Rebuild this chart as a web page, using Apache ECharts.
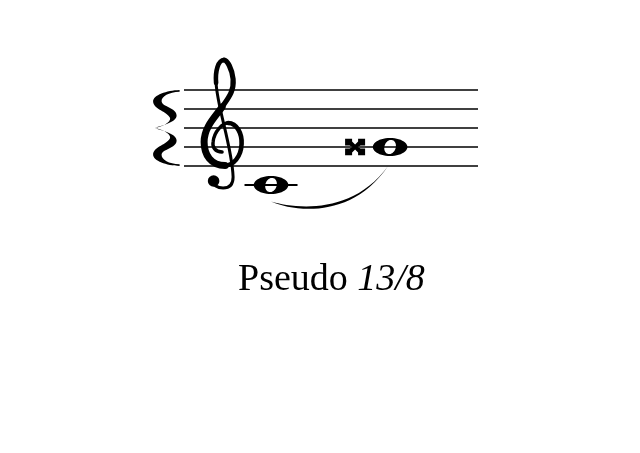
<!DOCTYPE html>
<html>
<head>
<meta charset="utf-8">
<title>Pseudo 13/8</title>
<script src="https://cdn.jsdelivr.net/npm/echarts@6/dist/echarts.min.js"></script>
<style>
  html, body { margin: 0; padding: 0; background: #fff; }
  #staff { width: 640px; height: 453px; }
</style>
</head>
<body>
<div id="staff"></div>
<script>
// vertical positions are diatonic steps: 0 = bottom staff line (E4), 2 = G4 line ...
const staffLines = [0, 2, 4, 6, 8];
const staffSpan = [0, 100];
const noteNames = ['C4', 'G𝄪4'];
const noteX = [29.6, 70.1];
const noteStep = [-2, 2];
const noteAccidental = ['', 'doubleSharp'];
const slurNotes = [[0, 1]];
const clefX = [13.3];
const clefStep = [2];
const braceX = [-10];
const braceStep = [4];
const captionText = ['Pseudo ', '13/8'];

// glyph outlines, drawn in pixels for a 19px staff space
function ellipsePath(rx, ry, rot, reverse) {
  const n = 48, pts = [];
  const c = Math.cos(rot), s = Math.sin(rot);
  for (let i = 0; i < n; i++) {
    const t = (reverse ? -1 : 1) * i / n * Math.PI * 2;
    const x = rx * Math.cos(t), y = ry * Math.sin(t);
    pts.push((x * c - y * s).toFixed(2) + ' ' + (x * s + y * c).toFixed(2));
  }
  return 'M ' + pts.join(' L ') + ' Z';
}
const WHOLE_HEAD = ellipsePath(17.3, 9, 0, false) + ' ' + ellipsePath(5.6, 7.3, 20 * Math.PI / 180, true);

const DOUBLE_SHARP = 'M 0 -2.5 L 3 -5.5 L 3 -8.3 L 10 -8.3 L 10 -1.5 L 5.5 -1.5 L 2.5 0 ' +
  'L 5.5 1.5 L 10 1.5 L 10 8.3 L 3 8.3 L 3 5.5 L 0 2.5 ' +
  'L -3 5.5 L -3 8.3 L -10 8.3 L -10 1.5 L -5.5 1.5 L -2.5 0 ' +
  'L -5.5 -1.5 L -10 -1.5 L -10 -8.3 L -3 -8.3 L -3 -5.5 Z';

const CLEF_STROKES = [
  ['M -1 5 C -8 5 -11 0 -10 -5 C -9 -16 0 -24 5 -24', 3.4],
  ['M 5 -24 C 14 -24 19 -13 18.5 -3 C 18 10 10 18.5 2 18.5', 4.6],
  ['M 2 18.5 C -12 18.5 -19 8 -19 -5 C -19 -20 -8 -30 -1 -40', 7],
  ['M -1 -40 C 6 -50 11 -56 10 -68 C 9 -78 4 -87 1 -87', 5.2],
  ['M 1 -87 C -5 -87 -8 -76 -7 -64', 4.6],
  ['M -7 -64 C -6 -40 9 0 10 30 C 10 38 6 41 0 41 C -6 41 -10 38 -10 34', 3]
];

const BRACE_HALF = 'M 25 -38 C 12 -37.5 -1.5 -33 -1.5 -26.5 C -1.5 -19 13.5 -16 15.5 -10 C 16.5 -5 6 -1 0 0 ' +
  'C 9 -3 22 -6 22 -12.5 C 22 -20.5 7 -21 7 -27 C 7 -31.5 14 -36 25 -36.3 Z';

function glyphScale(api) {
  return (api.coord([0, 0])[1] - api.coord([0, 2])[1]) / 19;
}

function renderStaffLine(params, api) {
  const a = api.coord([api.value(0), api.value(1)]);
  const b = api.coord([api.value(2), api.value(1)]);
  return {
    type: 'line',
    shape: { x1: a[0], y1: a[1], x2: b[0], y2: b[1] },
    style: { stroke: '#000', lineWidth: 1.4 }
  };
}

function renderNote(params, api) {
  const i = params.dataIndex;
  const step = api.value(1);
  const p = api.coord([api.value(0), step]);
  const k = glyphScale(api);
  const children = [];
  const ledger = s => {
    const y = api.coord([0, s])[1];
    children.push({
      type: 'line',
      shape: { x1: p[0] - 26.5 * k, y1: y, x2: p[0] + 26.5 * k, y2: y },
      style: { stroke: '#000', lineWidth: 1.8 }
    });
  };
  for (let s = staffLines[0] - 2; s >= step; s -= 2) ledger(s);
  for (let s = staffLines[staffLines.length - 1] + 2; s <= step; s += 2) ledger(s);
  children.push({
    type: 'path', x: p[0], y: p[1], scaleX: k, scaleY: k,
    shape: { pathData: WHOLE_HEAD },
    style: { fill: '#000' }
  });
  if (noteAccidental[i] === 'doubleSharp') {
    children.push({
      type: 'path', x: p[0] - 35 * k, y: p[1], scaleX: k, scaleY: k,
      shape: { pathData: DOUBLE_SHARP },
      style: { fill: '#000' }
    });
  }
  return { type: 'group', children: children };
}

function renderClef(params, api) {
  const p = api.coord([api.value(0), api.value(1)]);
  const k = glyphScale(api);
  const children = CLEF_STROKES.map(d => ({
    type: 'path',
    shape: { pathData: d[0] },
    style: { fill: 'none', stroke: '#000', lineWidth: d[1], lineCap: 'round', lineJoin: 'round' }
  }));
  children.push({ type: 'circle', shape: { cx: -9.5, cy: 34, r: 5.8 }, style: { fill: '#000' } });
  return { type: 'group', x: p[0], y: p[1], scaleX: k, scaleY: k, children: children };
}

function renderBrace(params, api) {
  const p = api.coord([api.value(0), api.value(1)]);
  const k = glyphScale(api);
  return {
    type: 'group',
    children: [1, -1].map(f => ({
      type: 'path', x: p[0], y: p[1], scaleX: k, scaleY: k * f,
      shape: { pathData: BRACE_HALF },
      style: { fill: '#000' }
    }))
  };
}

function renderSlur(params, api) {
  const a = api.coord([api.value(0), api.value(1)]);
  const b = api.coord([api.value(2), api.value(3)]);
  const k = glyphScale(api);
  const s = [a[0], a[1] + 16.5 * k];
  const e = [b[0] - 2 * k, b[1] + 19 * k];
  const c1 = [s[0] + 24 * k, s[1] + 10.5 * k];
  const c2 = [e[0] - 36 * k, e[1] + 53 * k];
  const t = 3.5 * k;
  const f = v => v.toFixed(2);
  const d = 'M ' + f(s[0]) + ' ' + f(s[1]) +
    ' C ' + f(c1[0]) + ' ' + f(c1[1]) + ' ' + f(c2[0]) + ' ' + f(c2[1]) + ' ' + f(e[0]) + ' ' + f(e[1]) +
    ' C ' + f(c2[0]) + ' ' + f(c2[1] - t) + ' ' + f(c1[0]) + ' ' + f(c1[1] - t) + ' ' + f(s[0]) + ' ' + f(s[1]) + ' Z';
  return { type: 'path', shape: { pathData: d }, style: { fill: '#000' } };
}

const chart = echarts.init(document.getElementById('staff'), null, { renderer: 'canvas' });
chart.setOption({
  animation: false,
  backgroundColor: '#fff',
  title: {
    text: '{r|' + captionText[0] + '}{i|' + captionText[1] + '}',
    left: 238,
    top: 260,
    padding: 0,
    textStyle: {
      fontWeight: 'normal',
      rich: {
        r: { fontFamily: 'Liberation Serif', fontSize: 38, fontWeight: 'normal', color: '#000', lineHeight: 40 },
        i: { fontFamily: 'Liberation Serif', fontSize: 38, fontWeight: 'normal', fontStyle: 'italic', color: '#000', lineHeight: 40 }
      }
    }
  },
  grid: { left: 184, right: 162, top: 71, bottom: 230 },
  xAxis: { type: 'value', min: staffSpan[0], max: staffSpan[1], show: false },
  yAxis: { type: 'value', min: -6, max: 10, show: false },
  series: [
    {
      name: 'staff', type: 'custom', silent: true, renderItem: renderStaffLine,
      data: staffLines.map(s => [staffSpan[0], s, staffSpan[1]])
    },
    {
      name: 'brace', type: 'custom', silent: true, renderItem: renderBrace,
      data: braceX.map((x, i) => [x, braceStep[i]])
    },
    {
      name: 'clef', type: 'custom', silent: true, renderItem: renderClef,
      data: clefX.map((x, i) => [x, clefStep[i]])
    },
    {
      name: 'notes', type: 'custom', silent: true, renderItem: renderNote,
      data: noteX.map((x, i) => ({ name: noteNames[i], value: [x, noteStep[i]] }))
    },
    {
      name: 'slur', type: 'custom', silent: true, renderItem: renderSlur,
      data: slurNotes.map(pair => [noteX[pair[0]], noteStep[pair[0]], noteX[pair[1]], noteStep[pair[1]]])
    }
  ]
});
</script>
</body>
</html>
